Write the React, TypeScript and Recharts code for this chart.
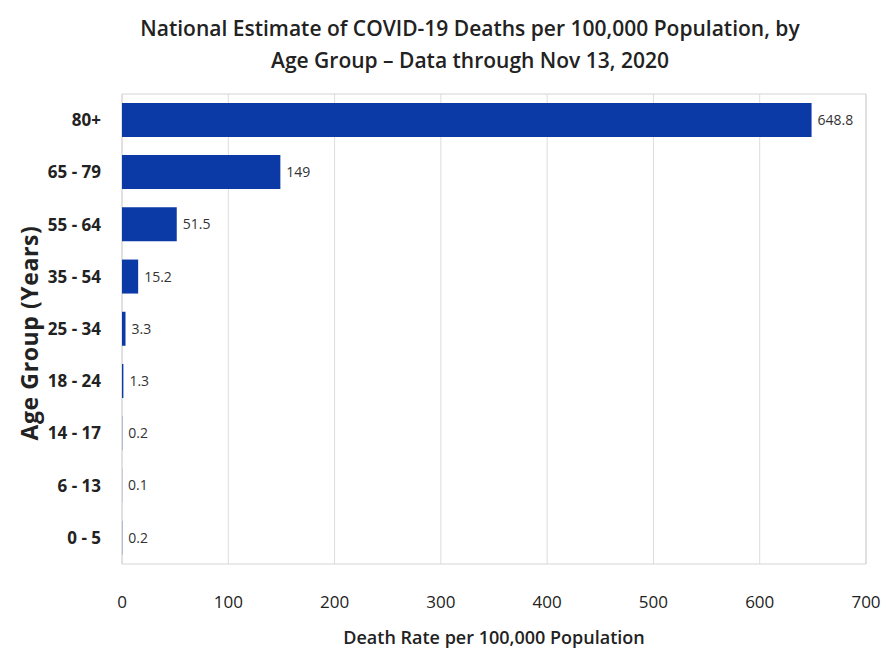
import React from 'react'
import { BarChart, Bar, XAxis, YAxis, CartesianGrid, LabelList, Label, ReferenceArea } from 'recharts'

const ageGroups = ['80+', '65 - 79', '55 - 64', '35 - 54', '25 - 34', '18 - 24', '14 - 17', '6 - 13', '0 - 5']
const deathRates = [648.8, 149, 51.5, 15.2, 3.3, 1.3, 0.2, 0.1, 0.2]
const xTicks = [0, 100, 200, 300, 400, 500, 600, 700]

const data = ageGroups.map((group, i) => ({ group, rate: deathRates[i] }))

const FONT = '"Open Sans", sans-serif'

const YLabel = (props: any) => {
  const vb = props.viewBox || {}
  const cx = 29
  const cy = vb.y + vb.height / 2 + 4
  return (
    <text
      x={cx}
      y={cy}
      transform={`rotate(-90, ${cx}, ${cy})`}
      textAnchor="middle"
      dominantBaseline="central"
      fontFamily={FONT}
      fontWeight="bold"
      fontSize={23}
      letterSpacing={0.6}
      fill="#222"
    >
      Age Group (Years)
    </text>
  )
}

export default function App() {
  return (
    <div style={{ position: 'absolute', left: 0, top: 0, width: 886, height: 650, background: '#fff', fontFamily: FONT }}>
      <div
        style={{
          position: 'absolute',
          left: 0,
          top: 12,
          width: 940,
          textAlign: 'center',
          fontSize: 21,
          fontWeight: 600,
          lineHeight: '32px',
          color: '#222',
        }}
      >
        National Estimate of COVID-19 Deaths per 100,000 Population, by
        <br />
        Age Group – Data through Nov 13, 2020
      </div>
      <BarChart
        width={886}
        height={650}
        data={data}
        layout="vertical"
        margin={{ top: 94, right: 20, bottom: 6, left: 10 }}
        barCategoryGap="17%"
      >
        <CartesianGrid horizontal={false} stroke="#dcdcdc" />
        <ReferenceArea x1={0} x2={700} fill="none" stroke="#d4d4d4" ifOverflow="visible" />
        <XAxis
          type="number"
          domain={[0, 700]}
          ticks={xTicks}
          axisLine={false}
          tickLine={false}
          tickSize={0}
          tickMargin={32}
          height={80}
          tick={{ fill: '#222', fontSize: 17, fontWeight: 500, fontFamily: FONT }}
        >
          <Label
            value="Death Rate per 100,000 Population"
            position="insideBottom"
            offset={0}
            style={{ fill: '#222', fontSize: 18, fontWeight: 600, fontFamily: FONT }}
          />
        </XAxis>
        <YAxis
          type="category"
          dataKey="group"
          width={112}
          axisLine={false}
          tickLine={false}
          tickSize={0}
          tickMargin={21}
          tick={{ fill: '#222', fontSize: 17, fontWeight: 'bold', fontFamily: FONT }}
        >
          <Label content={<YLabel />} />
        </YAxis>
        <Bar dataKey="rate" fill="#0b3aa6" isAnimationActive={false}>
          <LabelList
            dataKey="rate"
            position="right"
            offset={6}
            style={{ fill: '#333', fontSize: 14, fontFamily: FONT }}
          />
        </Bar>
      </BarChart>
    </div>
  )
}
